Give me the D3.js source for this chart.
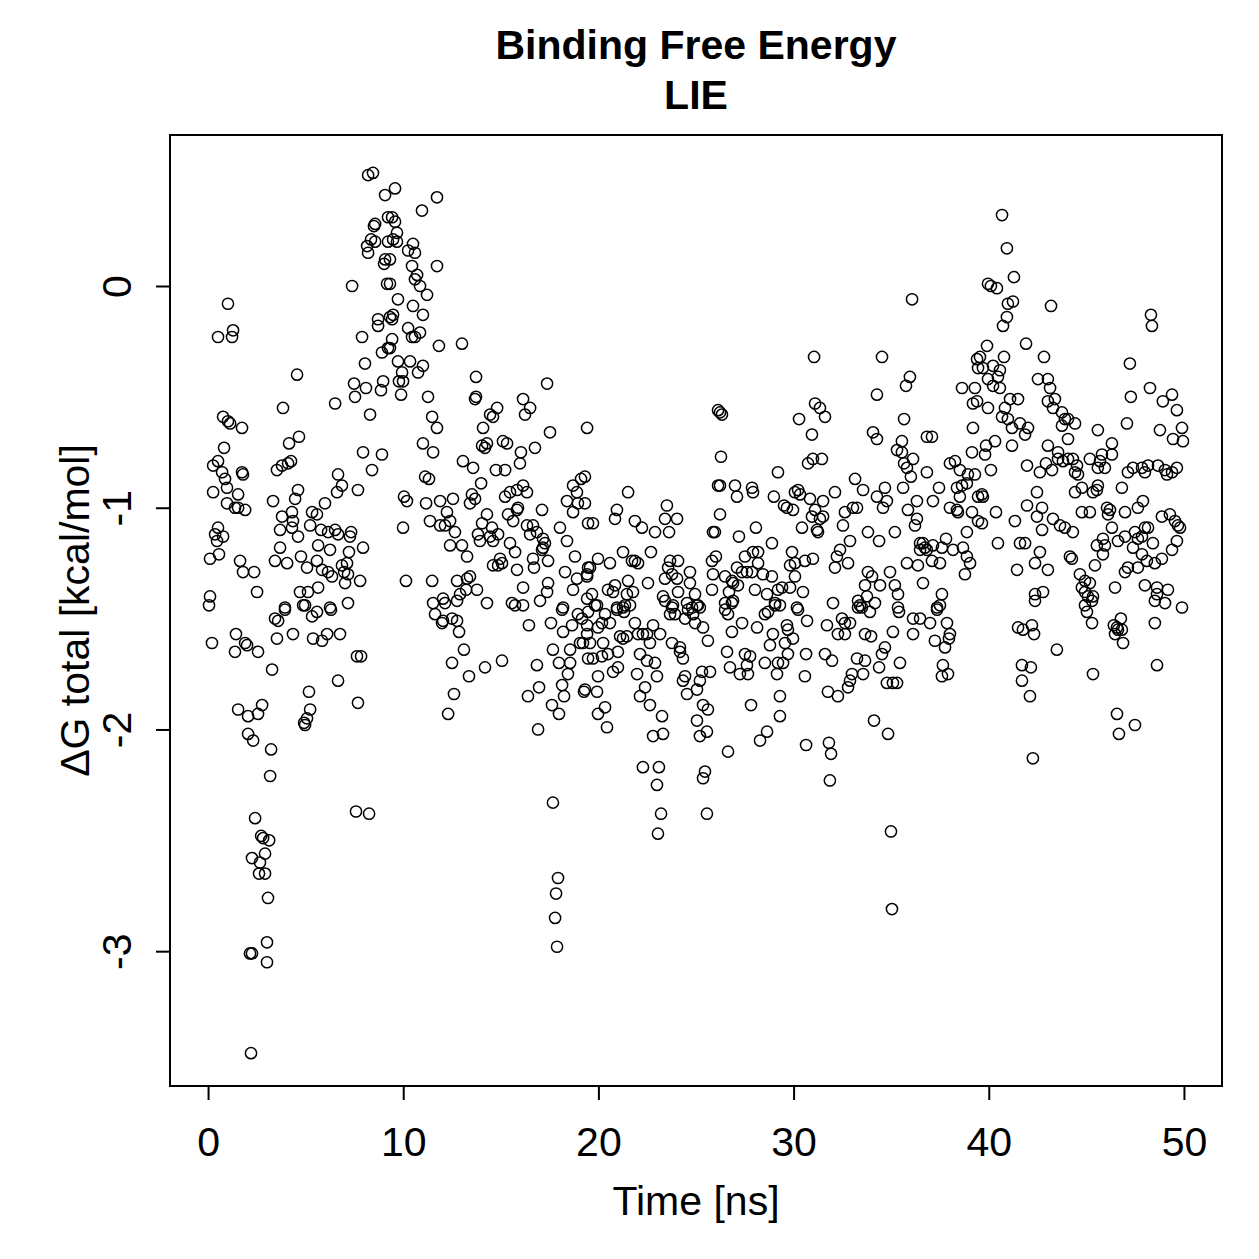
<!DOCTYPE html>
<html>
<head>
<meta charset="utf-8">
<script src="https://cdn.jsdelivr.net/npm/d3@7"></script>
<style>
  body { margin: 0; background: #fff; }
  text { font-family: "Liberation Sans", Arial, Helvetica, sans-serif; }
</style>
</head>
<body>
<div id="graph"></div>
<script>
// titles and tick labels
const titleLines = ["Binding Free Energy", "LIE"];
const xLabel = "Time [ns]";
const yLabel = "\u0394G total [kcal/mol]";
const xTicks = [0, 10, 20, 30, 40, 50];
const yTicks = [0, -1, -2, -3];

// [time (ns), dG (kcal/mol)], left to right by region
const early = [
  [8.20,0.50],[8.45,0.51],[9.07,0.41],[9.22,0.31],[8.56,0.28],[8.50,0.27],[8.35,0.21],[8.56,0.20],[8.15,0.18],[8.20,0.15],[9.07,0.12],[9.02,0.10],[9.22,0.20],[7.38,0.00],[9.17,0.01],[1.02,-0.08],[0.51,-0.23],[1.28,-0.20],[1.23,-0.23],[8.71,-0.15],[8.71,-0.18],[9.32,-0.14],[7.89,-0.23],[8.91,-0.30],[9.22,-0.28],[8.04,-0.35],[7.48,-0.44],[8.09,-0.46],[7.53,-0.50],[8.86,-0.47],[8.97,-0.43],[6.51,-0.53],[8.30,-0.58],[4.56,-0.40],[3.84,-0.55],[0.77,-0.59],[1.02,-0.61],[1.13,-0.62],[1.74,-0.64],[4.66,-0.68],[4.15,-0.71],[0.82,-0.73],[0.26,-0.81],[0.51,-0.79],[0.72,-0.84],[0.87,-0.87],[1.74,-0.84],[1.79,-0.85],[3.53,-0.83],[3.79,-0.81],[4.10,-0.80],[4.25,-0.79],[7.94,-0.75],[8.91,-0.76],[8.40,-0.83],[0.26,-0.93],[0.97,-0.91],[1.54,-0.94],[0.97,-0.98],[1.38,-1.00],[1.90,-1.01],[1.54,-1.00],[3.33,-0.97],[3.79,-1.04],[4.30,-1.02],[4.61,-0.92],[4.46,-0.96],[4.35,-1.06],[4.30,-1.09],[3.69,-1.10],[4.61,-1.13],[6.66,-0.85],[6.86,-0.90],[6.61,-0.93],[5.99,-0.98],[7.68,-0.92],[5.33,-1.02],[5.58,-1.03],[5.23,-1.08],[5.79,-1.10],[6.15,-1.11],[6.51,-1.10],[6.66,-1.12],[7.27,-1.13],[7.33,-1.11],[0.51,-1.09],[0.36,-1.12],[0.77,-1.13],[0.46,-1.15],[0.10,-1.23],[0.56,-1.21],[1.64,-1.24],[1.79,-1.29],[2.36,-1.29],[2.51,-1.38],[3.43,-1.24],[3.69,-1.18],[4.05,-1.25],[4.76,-1.22],[5.07,-1.27],[5.58,-1.24],[5.64,-1.17],[6.25,-1.19],[7.22,-1.20],[7.94,-1.18],[5.84,-1.28],[6.15,-1.29],[6.35,-1.31],[6.86,-1.26],[7.12,-1.25],[6.97,-1.29],[7.17,-1.30],[7.79,-1.33],[7.02,-1.34],[4.71,-1.38],[5.12,-1.38],[5.64,-1.36],[0.10,-1.40],[0.05,-1.44],[3.94,-1.45],[4.87,-1.44],[6.25,-1.45],[7.17,-1.43],
  [0.20,-1.61],[1.43,-1.57],[1.90,-1.61],[2.00,-1.62],[1.38,-1.65],[2.56,-1.65],[3.43,-1.50],[3.59,-1.51],[3.94,-1.46],[3.53,-1.59],[4.35,-1.57],[4.97,-1.44],[5.33,-1.49],[5.58,-1.47],[5.38,-1.59],[5.84,-1.60],[6.10,-1.57],[6.76,-1.57],[6.30,-1.46],[7.63,-1.67],[7.84,-1.67],[3.28,-1.73],[6.66,-1.78],[5.17,-1.83],[5.23,-1.91],[5.07,-1.95],[4.92,-1.97],[4.97,-1.98],[7.68,-1.88],[1.54,-1.91],[2.05,-1.94],[2.56,-1.93],[2.77,-1.89],[2.05,-2.02],[2.31,-2.05],[3.23,-2.09],[3.18,-2.21],[2.41,-2.40],[7.58,-2.37],[8.25,-2.38],[2.72,-2.48],[2.82,-2.49],[3.13,-2.50],[2.92,-2.56],[2.25,-2.58],[2.66,-2.60],[2.61,-2.65],[2.92,-2.65],[3.07,-2.76],[3.02,-2.96],[2.15,-3.01],[2.25,-3.01],[3.02,-3.05],[2.20,-3.46]
];

const phase2 = [
  [9.58,0.44],[11.73,0.40],[10.96,0.34],[9.43,0.31],[9.58,0.29],[9.68,0.24],[9.48,0.21],[9.68,0.20],[10.50,0.19],[10.25,0.16],[10.60,0.15],[11.73,0.09],[10.45,0.09],[10.71,0.05],[10.60,0.03],[10.86,0.00],[11.22,-0.04],[9.32,0.12],[9.32,0.01],[9.73,-0.06],[10.50,-0.09],[11.01,-0.13],[9.48,-0.13],[9.43,-0.15],[10.25,-0.19],[10.45,-0.23],[10.86,-0.21],[10.60,-0.23],[9.43,-0.24],[9.32,-0.28],[11.83,-0.27],[13.01,-0.26],[9.73,-0.34],[10.35,-0.34],[11.01,-0.36],[10.76,-0.39],[9.94,-0.39],[9.99,-0.43],[9.78,-0.43],[9.89,-0.49],[13.73,-0.41],[17.37,-0.44],[13.73,-0.50],[13.68,-0.51],[11.27,-0.50],[11.48,-0.59],[11.73,-0.64],[14.81,-0.55],[14.45,-0.58],[14.60,-0.59],[16.14,-0.51],[16.50,-0.55],[16.24,-0.58],[14.09,-0.64],[19.42,-0.64],[17.52,-0.66],[11.01,-0.71],[11.53,-0.75],[14.04,-0.72],[14.29,-0.71],[14.19,-0.73],[15.11,-0.70],[15.32,-0.71],[16.75,-0.73],[16.03,-0.75],[15.98,-0.80],[13.06,-0.79],[13.58,-0.82],[14.75,-0.83],[15.22,-0.83],[11.12,-0.86],[11.32,-0.87],[13.99,-0.89],[18.70,-0.90],[19.11,-0.87],[18.90,-0.93],[18.95,-0.98],[18.70,-1.02],[18.39,-0.97],[10.04,-0.95],[10.19,-0.97],[11.89,-0.97],[11.17,-0.98],[12.55,-0.96],[13.52,-0.94],[13.42,-0.98],[13.68,-0.96],[15.22,-0.95],[15.47,-0.93],[15.83,-0.92],[16.14,-0.90],[16.34,-0.93],[15.88,-1.00],[15.83,-1.01],[17.11,-1.01],[12.24,-1.02],[11.37,-1.06],[11.89,-1.08],[12.40,-1.06],[12.14,-1.08],[12.65,-1.11],[14.29,-1.03],[14.04,-1.07],[14.55,-1.09],[15.37,-1.03],[15.63,-1.06],[16.34,-1.08],[16.65,-1.08],[16.50,-1.12],[16.85,-1.11],[18.03,-1.09],[18.39,-1.15],[19.47,-1.07],[9.99,-1.09],[12.40,-1.17],[13.01,-1.17],[13.83,-1.12],[13.93,-1.15],[14.45,-1.13],[14.60,-1.15],[14.86,-1.12],[15.47,-1.16],[15.73,-1.20],[17.16,-1.14],[17.26,-1.16],[17.16,-1.18],[17.11,-1.19],[13.27,-1.22],[14.96,-1.23],[15.06,-1.25],[14.86,-1.26],[14.60,-1.26],[15.83,-1.28],[16.65,-1.23],[16.70,-1.27],[17.42,-1.24],[18.80,-1.22],[18.29,-1.29],[18.90,-1.32],[19.42,-1.30],[19.47,-1.27],[10.14,-1.33],[11.48,-1.33],[12.76,-1.33],[13.27,-1.32],[13.42,-1.31],[13.22,-1.37],[12.91,-1.39],[13.78,-1.37],[16.14,-1.36],[17.42,-1.34],[17.37,-1.38],[17.01,-1.42],[11.53,-1.43],[12.04,-1.41],[12.14,-1.43],[14.29,-1.43],[15.57,-1.43],[15.73,-1.44],[16.14,-1.44],[18.19,-1.45],[18.70,-1.37],[19.42,-1.41],
  [12.76,-1.42],[11.63,-1.48],[11.99,-1.52],[12.04,-1.51],[12.50,-1.50],[12.76,-1.51],[12.86,-1.56],[16.44,-1.53],[17.57,-1.52],[18.14,-1.46],[18.19,-1.56],[18.65,-1.53],[18.95,-1.48],[19.16,-1.50],[19.42,-1.53],[19.21,-1.61],[19.06,-1.61],[13.11,-1.64],[12.50,-1.70],[13.37,-1.76],[14.19,-1.72],[15.06,-1.69],[12.60,-1.84],[12.30,-1.93],[17.67,-1.64],[18.55,-1.64],[17.98,-1.70],[18.55,-1.70],[18.44,-1.75],[18.14,-1.80],[18.24,-1.85],[17.62,-1.89],[17.98,-1.93],[19.26,-1.83],[19.47,-1.68],[16.85,-1.71],[16.96,-1.81],[16.39,-1.85],[16.91,-2.00],[17.67,-2.33],[17.93,-2.67],[17.83,-2.74],[17.78,-2.85],[17.88,-2.98]
];

const middle = [
  [26.13,-0.56],[26.23,-0.57],[26.33,-0.58],[26.28,-0.77],[19.31,-0.86],[29.20,-0.84],[21.52,-0.93],[26.13,-0.90],[26.23,-0.90],[27.00,-0.90],[27.10,-0.95],[27.87,-0.91],[27.92,-0.93],[28.99,-0.95],[29.51,-0.99],[19.31,-0.98],[20.95,-1.01],[20.85,-1.05],[21.87,-1.06],[22.23,-1.09],[19.72,-1.07],[23.51,-0.99],[23.41,-1.05],[24.03,-1.05],[22.90,-1.11],[23.62,-1.11],[26.23,-1.03],[25.87,-1.11],[25.97,-1.11],[27.20,-1.13],[28.07,-1.09],[28.89,-1.16],[21.26,-1.20],[21.72,-1.24],[21.87,-1.24],[22.03,-1.25],[22.69,-1.20],[20.59,-1.25],[19.98,-1.23],[19.57,-1.27],[19.42,-1.31],[23.67,-1.24],[23.57,-1.27],[24.08,-1.24],[23.77,-1.30],[23.41,-1.32],[24.03,-1.32],[24.69,-1.29],[24.69,-1.34],[25.82,-1.24],[26.02,-1.22],[25.87,-1.30],[26.49,-1.31],[25.82,-1.37],[27.10,-1.27],[27.51,-1.22],[27.92,-1.20],[28.18,-1.20],[28.18,-1.25],[27.61,-1.29],[27.87,-1.29],[27.36,-1.29],[28.43,-1.30],[28.89,-1.31],[26.90,-1.34],[27.15,-1.35],[26.84,-1.33],[29.41,-1.36],[29.20,-1.37],[21.52,-1.33],[22.54,-1.34],[21.77,-1.38],[20.85,-1.35],[20.49,-1.37],[20.75,-1.38],[21.46,-1.39],[19.67,-1.39],[19.83,-1.44],[23.31,-1.40],[24.08,-1.38],[24.95,-1.39],[24.54,-1.43],[25.10,-1.44],[23.82,-1.44],[28.02,-1.37],[28.64,-1.39],[29.05,-1.43],[26.69,-1.38],[26.49,-1.43],[26.90,-1.42],[20.95,-1.45],[21.36,-1.44],
  [19.93,-1.44],[19.47,-1.47],[19.42,-1.57],[19.57,-1.61],[19.98,-1.54],[20.18,-1.52],[20.59,-1.52],[20.34,-1.48],[20.95,-1.46],[21.26,-1.45],[21.62,-1.44],[21.31,-1.47],[20.24,-1.61],[19.72,-1.68],[20.18,-1.67],[20.49,-1.66],[21.00,-1.65],[21.26,-1.59],[21.11,-1.58],[21.46,-1.58],[21.87,-1.52],[22.03,-1.57],[22.28,-1.57],[22.49,-1.57],[22.80,-1.53],[23.16,-1.57],[22.64,-1.61],[19.98,-1.76],[19.93,-1.83],[19.31,-1.82],[19.98,-1.93],[20.34,-1.90],[20.44,-1.99],[20.75,-1.74],[21.00,-1.72],[21.98,-1.75],[22.13,-1.66],[22.49,-1.69],[22.90,-1.70],[23.00,-1.76],[22.39,-1.81],[22.13,-1.85],[22.64,-1.89],[23.26,-1.94],[23.31,-2.02],[22.80,-2.03],[22.28,-2.17],[23.10,-2.17],[23.00,-2.25],[23.21,-2.38],[23.05,-2.47],[23.41,-1.42],[23.77,-1.45],[23.67,-1.48],[23.92,-1.48],[24.44,-1.50],[24.59,-1.46],[24.80,-1.45],[25.05,-1.44],[25.20,-1.45],[24.85,-1.48],[24.95,-1.52],[25.36,-1.54],[25.61,-1.60],[23.77,-1.61],[24.18,-1.63],[24.18,-1.65],[24.33,-1.68],[24.44,-1.76],[24.33,-1.78],[24.54,-1.84],[25.05,-1.82],[25.31,-1.74],[25.72,-1.74],[25.20,-1.78],[25.36,-1.89],[25.61,-1.91],[25.05,-1.96],[25.20,-2.03],[25.56,-2.01],[25.46,-2.19],[25.36,-2.22],[25.56,-2.38],[26.59,-1.65],[26.74,-1.72],[26.84,-1.56],[26.64,-1.48],[26.49,-1.46],[26.84,-1.43],[27.36,-1.52],[27.51,-1.66],[27.77,-1.67],[27.61,-1.71],[27.25,-1.75],[27.66,-1.75],[28.53,-1.70],[28.13,-1.54],[28.53,-1.48],[28.69,-1.47],[28.94,-1.57],[28.79,-1.62],[29.05,-1.44],[29.20,-1.70],[29.15,-1.75],[29.30,-1.85],[29.30,-1.94],[28.64,-2.01],[28.28,-2.05],[27.82,-1.89],[26.64,-2.10]
];

const phase4 = [
  [36.07,-0.06],[31.05,-0.32],[34.53,-0.32],[35.96,-0.41],[35.76,-0.45],[34.27,-0.49],[39.40,-0.33],[39.45,-0.37],[38.63,-0.46],[39.29,-0.46],[39.19,-0.53],[39.40,-0.52],[31.10,-0.53],[31.35,-0.55],[31.61,-0.59],[30.28,-0.60],[35.66,-0.60],[30.94,-0.67],[34.07,-0.66],[34.27,-0.69],[36.83,-0.68],[37.09,-0.68],[39.19,-0.64],[35.55,-0.70],[35.30,-0.74],[35.55,-0.75],[36.12,-0.78],[35.66,-0.80],[35.81,-0.82],[36.01,-0.86],[30.74,-0.80],[30.99,-0.78],[31.45,-0.78],[39.14,-0.75],[38.01,-0.80],[38.27,-0.79],[38.52,-0.83],[38.93,-0.85],[38.88,-0.89],[38.63,-0.90],[38.37,-0.91],[36.83,-0.84],[37.45,-0.91],[33.15,-0.87],[33.56,-0.92],[34.68,-0.91],[35.61,-0.91],[30.23,-0.92],[30.33,-0.94],[30.07,-0.93],[30.84,-0.96],[31.51,-0.97],[32.12,-0.93],[34.27,-0.95],[34.78,-0.97],[34.58,-1.00],[38.52,-0.95],[38.01,-1.00],[38.37,-1.01],[38.42,-1.02],[39.14,-1.02],[39.45,-0.95],[39.45,-1.06],[37.14,-0.97],[36.32,-0.97],[29.66,-1.00],[29.97,-1.01],[31.10,-1.01],[30.94,-1.04],[31.35,-1.05],[31.51,-1.04],[31.20,-1.10],[31.25,-1.11],[30.43,-1.09],[32.53,-1.08],[32.63,-1.02],[33.04,-1.00],[33.25,-1.00],[35.86,-1.01],[36.32,-1.05],[36.22,-1.08],[33.81,-1.11],[34.38,-1.15],[35.19,-1.11],[32.89,-1.15],[36.48,-1.16],[36.63,-1.16],[36.73,-1.18],[36.48,-1.19],[36.83,-1.19],[37.14,-1.17],[37.81,-1.14],[37.60,-1.18],[38.17,-1.19],[38.68,-1.18],[38.88,-1.11],[38.88,-1.22],[39.04,-1.25],[38.78,-1.30],[35.81,-1.25],[36.37,-1.26],[37.09,-1.24],[37.50,-1.25],[29.92,-1.20],[30.07,-1.25],[29.82,-1.26],[30.58,-1.24],[30.99,-1.23],[32.22,-1.22],[32.38,-1.19],[32.12,-1.27],[32.79,-1.25],[33.81,-1.29],[34.02,-1.31],[34.94,-1.29],[30.07,-1.31],[29.82,-1.36],[30.48,-1.38],[33.66,-1.35],[34.43,-1.35],[35.19,-1.35],[35.35,-1.39],[36.63,-1.34],[37.60,-1.39],[32.02,-1.43],[33.30,-1.42],[33.76,-1.40],[33.40,-1.44],[34.17,-1.43],[35.35,-1.45],[37.35,-1.45],[37.50,-1.44],[30.17,-1.45],
  [29.30,-1.44],[30.23,-1.46],[30.69,-1.51],[29.66,-1.53],[29.71,-1.55],[29.56,-1.61],[29.97,-1.59],[29.71,-1.66],[29.46,-1.70],[30.64,-1.66],[30.58,-1.76],[31.71,-1.53],[32.48,-1.50],[32.63,-1.52],[32.89,-1.52],[32.27,-1.57],[32.63,-1.57],[33.30,-1.45],[33.50,-1.45],[33.91,-1.47],[35.40,-1.47],[35.09,-1.56],[33.66,-1.57],[33.97,-1.58],[31.61,-1.66],[31.97,-1.69],[33.25,-1.68],[33.66,-1.69],[34.53,-1.66],[34.68,-1.63],[34.38,-1.72],[33.56,-1.75],[32.99,-1.75],[32.89,-1.78],[32.79,-1.81],[35.45,-1.70],[34.78,-1.79],[35.09,-1.79],[35.30,-1.79],[31.76,-1.83],[32.27,-1.85],[36.12,-1.50],[36.48,-1.50],[36.12,-1.57],[36.99,-1.52],[37.24,-1.60],[37.35,-1.46],[37.86,-1.52],[38.01,-1.57],[37.96,-1.59],[37.76,-1.63],[37.65,-1.71],[37.60,-1.76],[37.91,-1.75],[34.12,-1.96],[34.84,-2.02],[30.64,-2.07],[31.81,-2.06],[31.92,-2.11],[31.86,-2.23],[34.99,-2.46],[35.04,-2.81]
];

const late = [
  [40.68,0.32],[40.93,0.17],[41.29,0.04],[39.96,0.01],[40.11,0.00],[40.42,-0.01],[40.98,-0.08],[41.24,-0.07],[43.19,-0.09],[40.93,-0.14],[40.73,-0.18],[48.31,-0.13],[48.36,-0.18],[39.91,-0.27],[41.91,-0.26],[39.55,-0.32],[39.70,-0.37],[40.22,-0.36],[40.78,-0.32],[40.57,-0.38],[40.47,-0.41],[39.96,-0.42],[40.22,-0.45],[40.57,-0.46],[42.83,-0.32],[47.23,-0.35],[42.52,-0.42],[43.03,-0.42],[43.14,-0.46],[43.03,-0.52],[43.39,-0.51],[43.29,-0.55],[43.75,-0.57],[43.90,-0.60],[43.75,-0.63],[44.06,-0.60],[44.42,-0.62],[48.26,-0.46],[47.28,-0.50],[47.08,-0.62],[48.92,-0.52],[49.39,-0.49],[49.64,-0.56],[48.77,-0.65],[49.44,-0.69],[49.90,-0.64],[49.95,-0.70],[39.96,-0.55],[40.83,-0.55],[41.09,-0.51],[41.50,-0.51],[40.68,-0.59],[40.98,-0.60],[41.19,-0.64],[41.60,-0.62],[42.01,-0.64],[41.86,-0.67],[41.19,-0.72],[40.32,-0.70],[39.86,-0.72],[39.81,-0.76],[40.11,-0.83],[44.06,-0.69],[43.03,-0.72],[43.55,-0.75],[45.59,-0.65],[46.31,-0.71],[46.31,-0.76],[45.80,-0.76],[41.96,-0.81],[42.62,-0.84],[42.93,-0.80],[43.24,-0.83],[43.55,-0.78],[43.80,-0.79],[44.06,-0.78],[44.31,-0.78],[44.52,-0.81],[44.42,-0.84],[44.57,-0.85],[45.18,-0.78],[45.70,-0.79],[45.59,-0.82],[45.95,-0.82],[47.13,-0.84],[47.39,-0.82],[47.85,-0.82],[48.00,-0.84],[48.16,-0.81],[48.67,-0.81],[49.03,-0.83],[49.13,-0.85],[49.39,-0.84],[49.64,-0.82],[39.29,-0.85],[39.65,-0.94],[39.70,-0.95],[40.37,-1.02],[39.65,-1.07],[42.47,-0.93],[41.96,-0.99],[42.73,-1.00],[42.47,-1.04],[42.73,-1.10],[43.29,-1.05],[43.65,-1.08],[43.90,-1.09],[44.31,-1.11],[44.42,-0.93],[44.77,-0.91],[45.34,-0.93],[45.59,-0.90],[45.54,-0.92],[44.77,-1.02],[45.18,-1.02],[46.06,-1.00],[46.21,-1.01],[46.11,-1.03],[46.82,-0.91],[46.98,-1.02],[47.64,-1.00],[47.90,-0.97],[41.34,-1.06],[40.47,-1.16],[41.60,-1.16],[41.86,-1.16],[42.62,-1.20],[42.37,-1.25],[43.03,-1.28],[41.45,-1.28],[44.16,-1.22],[44.26,-1.23],[46.31,-1.09],[46.62,-1.15],[45.85,-1.14],[45.54,-1.17],[45.95,-1.17],[45.85,-1.21],[45.44,-1.26],[46.98,-1.13],[47.49,-1.11],[47.64,-1.14],[47.85,-1.13],[48.00,-1.09],[48.16,-1.09],[48.41,-1.16],[47.39,-1.18],[47.85,-1.21],[48.10,-1.24],[48.51,-1.25],[48.87,-1.23],[47.64,-1.27],[47.13,-1.27],[46.98,-1.29],[48.87,-1.04],[49.28,-1.03],[49.54,-1.06],[49.69,-1.08],[49.80,-1.09],[49.64,-1.15],[49.39,-1.19],[42.37,-1.39],[42.78,-1.38],[44.67,-1.30],[44.93,-1.33],[45.18,-1.34],[44.77,-1.36],[44.93,-1.38],[45.08,-1.40],[45.34,-1.40],[44.93,-1.44],[46.47,-1.36],[48.00,-1.35],[48.62,-1.36],[49.18,-1.37],[48.62,-1.39],[49.03,-1.43],[49.90,-1.45],
  [42.37,-1.42],[45.03,-1.47],[45.29,-1.52],[45.29,-1.42],[48.51,-1.42],[48.51,-1.52],[48.62,-1.71],[41.50,-1.54],[41.75,-1.55],[42.21,-1.53],[42.32,-1.57],[43.49,-1.64],[41.70,-1.71],[42.16,-1.72],[41.70,-1.78],[42.11,-1.85],[42.26,-2.13],[45.34,-1.75],[46.41,-1.53],[46.77,-1.50],[46.57,-1.54],[46.62,-1.55],[46.82,-1.55],[46.47,-1.57],[46.88,-1.61],[46.57,-1.93],[47.49,-1.98],[46.67,-2.02]
];

const samples = early.concat(phase2, middle, phase4, late);

// plot box (R base graphics style)
const box = {left: 170, right: 1222, top: 135, bottom: 1086};
const W = 1259, H = 1259;
const labelSize = "41px";

const svg = d3.select("#graph")
    .append("svg")
    .attr("width", W)
    .attr("height", H)
    .style("background", "#fff");

// R pads the data range by 4% on each side
const x = d3.scaleLinear().domain([-1.95, 51.95]).range([box.left, box.right]);
const y = d3.scaleLinear().domain([-3.608, 0.681]).range([box.bottom, box.top]);

// points
svg.append("g")
    .selectAll("circle")
    .data(samples)
    .join("circle")
    .attr("cx", d => x(d[0]))
    .attr("cy", d => y(d[1]))
    .attr("r", 5.6)
    .attr("fill", "none")
    .attr("stroke", "#000")
    .attr("stroke-width", 1.5);

// R prints a plain hyphen for negatives
const fmt = d => String(d);

// x axis
const xAxis = svg.append("g")
    .attr("transform", "translate(0," + box.bottom + ")")
    .call(d3.axisBottom(x).tickValues(xTicks).tickSize(14).tickSizeOuter(0).tickFormat(fmt));
xAxis.select(".domain").remove();
xAxis.selectAll(".tick line").attr("stroke", "#000").attr("stroke-width", 2);
xAxis.selectAll(".tick text")
    .attr("y", 70).attr("dy", 0)
    .attr("fill", "#000")
    .style("font-size", labelSize)
    .style("font-family", "'Liberation Sans', Arial, sans-serif");

// y axis, labels turned like R's las=0
const yAxis = svg.append("g")
    .attr("transform", "translate(" + box.left + ",0)")
    .call(d3.axisLeft(y).tickValues(yTicks).tickSize(14).tickSizeOuter(0).tickFormat(fmt));
yAxis.select(".domain").remove();
yAxis.selectAll(".tick line").attr("stroke", "#000").attr("stroke-width", 2);
yAxis.selectAll(".tick text")
    .attr("transform", "rotate(-90)")
    .attr("x", 0).attr("y", -39).attr("dy", 0)
    .attr("text-anchor", "middle")
    .attr("fill", "#000")
    .style("font-size", labelSize)
    .style("font-family", "'Liberation Sans', Arial, sans-serif");

// frame
svg.append("rect")
    .attr("x", box.left).attr("y", box.top)
    .attr("width", box.right - box.left)
    .attr("height", box.bottom - box.top)
    .attr("fill", "none")
    .attr("stroke", "#000")
    .attr("stroke-width", 2);

// titles
svg.append("g").selectAll("text")
    .data(titleLines)
    .join("text")
    .attr("x", (box.left + box.right) / 2)
    .attr("y", (d, i) => 59 + i * 50)
    .attr("text-anchor", "middle")
    .style("font-size", "41px")
    .style("font-weight", "bold")
    .text(d => d);

svg.append("text")
    .attr("x", (box.left + box.right) / 2)
    .attr("y", 1215)
    .attr("text-anchor", "middle")
    .style("font-size", labelSize)
    .text(xLabel);

svg.append("text")
    .attr("transform", "translate(89," + (box.top + box.bottom) / 2 + ") rotate(-90)")
    .attr("text-anchor", "middle")
    .style("font-size", labelSize)
    .text(yLabel);
</script>
</body>
</html>
